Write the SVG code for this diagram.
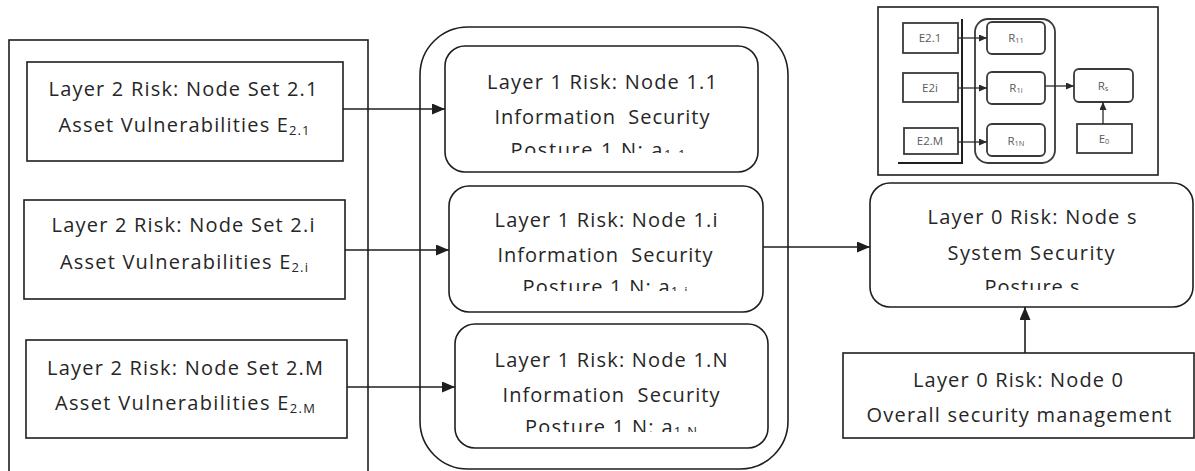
<svg xmlns="http://www.w3.org/2000/svg" width="1195" height="471" viewBox="0 0 1195 471">
  <style>
    .box { fill: #fff; stroke: #1e1e1e; stroke-width: 1.6; }
    .frame { fill: none; stroke: #1e1e1e; stroke-width: 1.6; }
    .conn { fill: none; stroke: #1e1e1e; stroke-width: 1.6; }
    .lbl { font-family: "Open Sans", "Liberation Sans", sans-serif; font-size: 20px; fill: #262626; text-anchor: middle; }
    .sub { font-size: 13px; }
    .mini { fill: #fff; stroke: #3a3a3a; stroke-width: 1.8; }
    .miniconn { fill: none; stroke: #2a2a2a; stroke-width: 1.3; }
    .mlbl { font-family: "Open Sans", "Liberation Sans", sans-serif; font-size: 11.5px; fill: #5a5a5a; text-anchor: middle; }
    .msub { font-size: 7.5px; }
  </style>
  <defs>
    <marker id="arrow" markerUnits="userSpaceOnUse" markerWidth="13" markerHeight="11" refX="13" refY="5.5" orient="auto">
      <path d="M0,0 L13,5.5 L0,11 z" fill="#1e1e1e"/>
    </marker>
    <marker id="arrowSmall" markerUnits="userSpaceOnUse" markerWidth="8" markerHeight="7" refX="8" refY="3.5" orient="auto">
      <path d="M0,0 L8,3.5 L0,7 z" fill="#2a2a2a"/>
    </marker>
    <clipPath id="clip11"><rect x="445" y="46" width="313" height="107"/></clipPath>
    <clipPath id="clip1i"><rect x="449" y="186" width="314" height="105"/></clipPath>
    <clipPath id="clip1N"><rect x="455" y="324" width="313" height="108"/></clipPath>
    <clipPath id="clipS"><rect x="870" y="183" width="323" height="107"/></clipPath>
  </defs>

  <rect width="1195" height="471" fill="#fff"/>

  <!-- Layer 2 container -->
  <g id="layer2-frame">
    <rect class="frame" x="9" y="40" width="359" height="440"/>
  </g>

  <!-- Layer 1 container -->
  <g id="layer1-frame">
    <rect class="frame" x="420" y="27" width="368" height="442" rx="48" ry="48"/>
  </g>

  <g id="node-2-1">
    <rect class="box" x="27" y="62" width="316" height="99"/>
    <text class="lbl" x="183" y="96" textLength="269" lengthAdjust="spacing">Layer 2 Risk: Node Set 2.1</text>
    <text class="lbl" x="184" y="132" textLength="251" lengthAdjust="spacing">Asset Vulnerabilities E<tspan class="sub" dy="3">2.1</tspan></text>
  </g>

  <g id="node-2-i">
    <rect class="box" x="24" y="200" width="321" height="99"/>
    <text class="lbl" x="183" y="232" textLength="263" lengthAdjust="spacing">Layer 2 Risk: Node Set 2.i</text>
    <text class="lbl" x="184" y="269" textLength="248" lengthAdjust="spacing">Asset Vulnerabilities E<tspan class="sub" dy="3">2.i</tspan></text>
  </g>

  <g id="node-2-M">
    <rect class="box" x="26" y="340" width="321" height="98"/>
    <text class="lbl" x="185" y="375" textLength="276" lengthAdjust="spacing">Layer 2 Risk: Node Set 2.M</text>
    <text class="lbl" x="185" y="410" textLength="260" lengthAdjust="spacing">Asset Vulnerabilities E<tspan class="sub" dy="3">2.M</tspan></text>
  </g>

  <g id="node-1-1">
    <rect class="box" x="445" y="46" width="313" height="126" rx="20" ry="20"/>
    <text class="lbl" x="602" y="89" textLength="230" lengthAdjust="spacing">Layer 1 Risk: Node 1.1</text>
    <text class="lbl" x="602" y="124" textLength="215" lengthAdjust="spacing">Information&#160;&#160;Security</text>
    <g clip-path="url(#clip11)">
      <text class="lbl" x="598" y="157" textLength="175" lengthAdjust="spacing">Posture 1 N: a<tspan class="sub" dy="2">1.1</tspan></text>
    </g>
  </g>

  <g id="node-1-i">
    <rect class="box" x="449" y="186" width="314" height="126" rx="20" ry="20"/>
    <text class="lbl" x="606" y="227" textLength="223" lengthAdjust="spacing">Layer 1 Risk: Node 1.i</text>
    <text class="lbl" x="605" y="262" textLength="215" lengthAdjust="spacing">Information&#160;&#160;Security</text>
    <g clip-path="url(#clip1i)">
      <text class="lbl" x="605" y="294" textLength="165" lengthAdjust="spacing">Posture 1 N: a<tspan class="sub" dy="2">1.i</tspan></text>
    </g>
  </g>

  <g id="node-1-N">
    <rect class="box" x="455" y="324" width="313" height="124" rx="20" ry="20"/>
    <text class="lbl" x="611" y="367" textLength="233" lengthAdjust="spacing">Layer 1 Risk: Node 1.N</text>
    <text class="lbl" x="611" y="402" textLength="217" lengthAdjust="spacing">Information&#160;&#160;Security</text>
    <g clip-path="url(#clip1N)">
      <text class="lbl" x="611" y="434" textLength="172" lengthAdjust="spacing">Posture 1 N: a<tspan class="sub" dy="2">1.N</tspan></text>
    </g>
  </g>

  <g id="node-s">
    <rect class="box" x="870" y="183" width="323" height="124" rx="20" ry="20"/>
    <text class="lbl" x="1032" y="224" textLength="209" lengthAdjust="spacing">Layer 0 Risk: Node s</text>
    <text class="lbl" x="1031" y="260" textLength="167" lengthAdjust="spacing">System Security</text>
    <g clip-path="url(#clipS)">
      <text class="lbl" x="1032" y="294" textLength="95" lengthAdjust="spacing">Posture s</text>
    </g>
  </g>

  <g id="node-0">
    <rect class="box" x="843" y="353" width="351" height="85"/>
    <text class="lbl" x="1018" y="387" textLength="210" lengthAdjust="spacing">Layer 0 Risk: Node 0</text>
    <text class="lbl" x="1019" y="422" textLength="305" lengthAdjust="spacing">Overall security management</text>
  </g>

  <!-- Connectors -->
  <g id="connectors">
    <line class="conn" x1="343" y1="109" x2="445" y2="109" marker-end="url(#arrow)"/>
    <line class="conn" x1="345" y1="250" x2="449" y2="250" marker-end="url(#arrow)"/>
    <line class="conn" x1="347" y1="387" x2="455" y2="387" marker-end="url(#arrow)"/>
    <line class="conn" x1="763" y1="247" x2="870" y2="247" marker-end="url(#arrow)"/>
    <line class="conn" x1="1025" y1="353" x2="1025" y2="307" marker-end="url(#arrow)"/>
  </g>

  <!-- Overview inset -->
  <g id="overview">
    <rect class="frame" x="878" y="7" width="280" height="168"/>
    <g id="overview-frames">
      <polyline class="frame" points="962,19 962,163 898,163" style="stroke-width:2"/>
      <rect class="mini" x="975" y="19" width="80" height="144" rx="13" ry="13"/>
    </g>
    <g id="ov-e21">
      <rect class="mini" x="903" y="23" width="55" height="30"/>
      <text class="mlbl" x="930" y="42">E2.1</text>
    </g>
    <g id="ov-e2i">
      <rect class="mini" x="903" y="73" width="55" height="29"/>
      <text class="mlbl" x="930" y="92">E2i</text>
    </g>
    <g id="ov-e2M">
      <rect class="mini" x="904" y="128" width="54" height="26"/>
      <text class="mlbl" x="930" y="145">E2.M</text>
    </g>
    <g id="ov-r11">
      <rect class="mini" x="987" y="22" width="58" height="32" rx="5" ry="5"/>
      <text class="mlbl" x="1016" y="42">R<tspan class="msub" dy="1">11</tspan></text>
    </g>
    <g id="ov-r1i">
      <rect class="mini" x="987" y="72" width="58" height="32" rx="5" ry="5"/>
      <text class="mlbl" x="1016" y="92">R<tspan class="msub" dy="1">1i</tspan></text>
    </g>
    <g id="ov-r1N">
      <rect class="mini" x="987" y="124" width="58" height="32" rx="5" ry="5"/>
      <text class="mlbl" x="1016" y="145">R<tspan class="msub" dy="1">1N</tspan></text>
    </g>
    <g id="ov-rs">
      <rect class="mini" x="1074" y="69" width="59" height="33" rx="5" ry="5"/>
      <text class="mlbl" x="1103" y="90">R<tspan class="msub" dy="1">s</tspan></text>
    </g>
    <g id="ov-e0">
      <rect class="mini" x="1077" y="124" width="55" height="29"/>
      <text class="mlbl" x="1104" y="143">E<tspan class="msub" dy="1">0</tspan></text>
    </g>
    <g id="overview-connectors">
      <line class="miniconn" x1="958" y1="38" x2="987" y2="38" marker-end="url(#arrowSmall)"/>
      <line class="miniconn" x1="958" y1="88" x2="987" y2="88" marker-end="url(#arrowSmall)"/>
      <line class="miniconn" x1="958" y1="142" x2="987" y2="142" marker-end="url(#arrowSmall)"/>
      <line class="miniconn" x1="1045" y1="86" x2="1074" y2="86" marker-end="url(#arrowSmall)"/>
      <line class="miniconn" x1="1103" y1="124" x2="1103" y2="102" marker-end="url(#arrowSmall)"/>
    </g>
  </g>
</svg>
